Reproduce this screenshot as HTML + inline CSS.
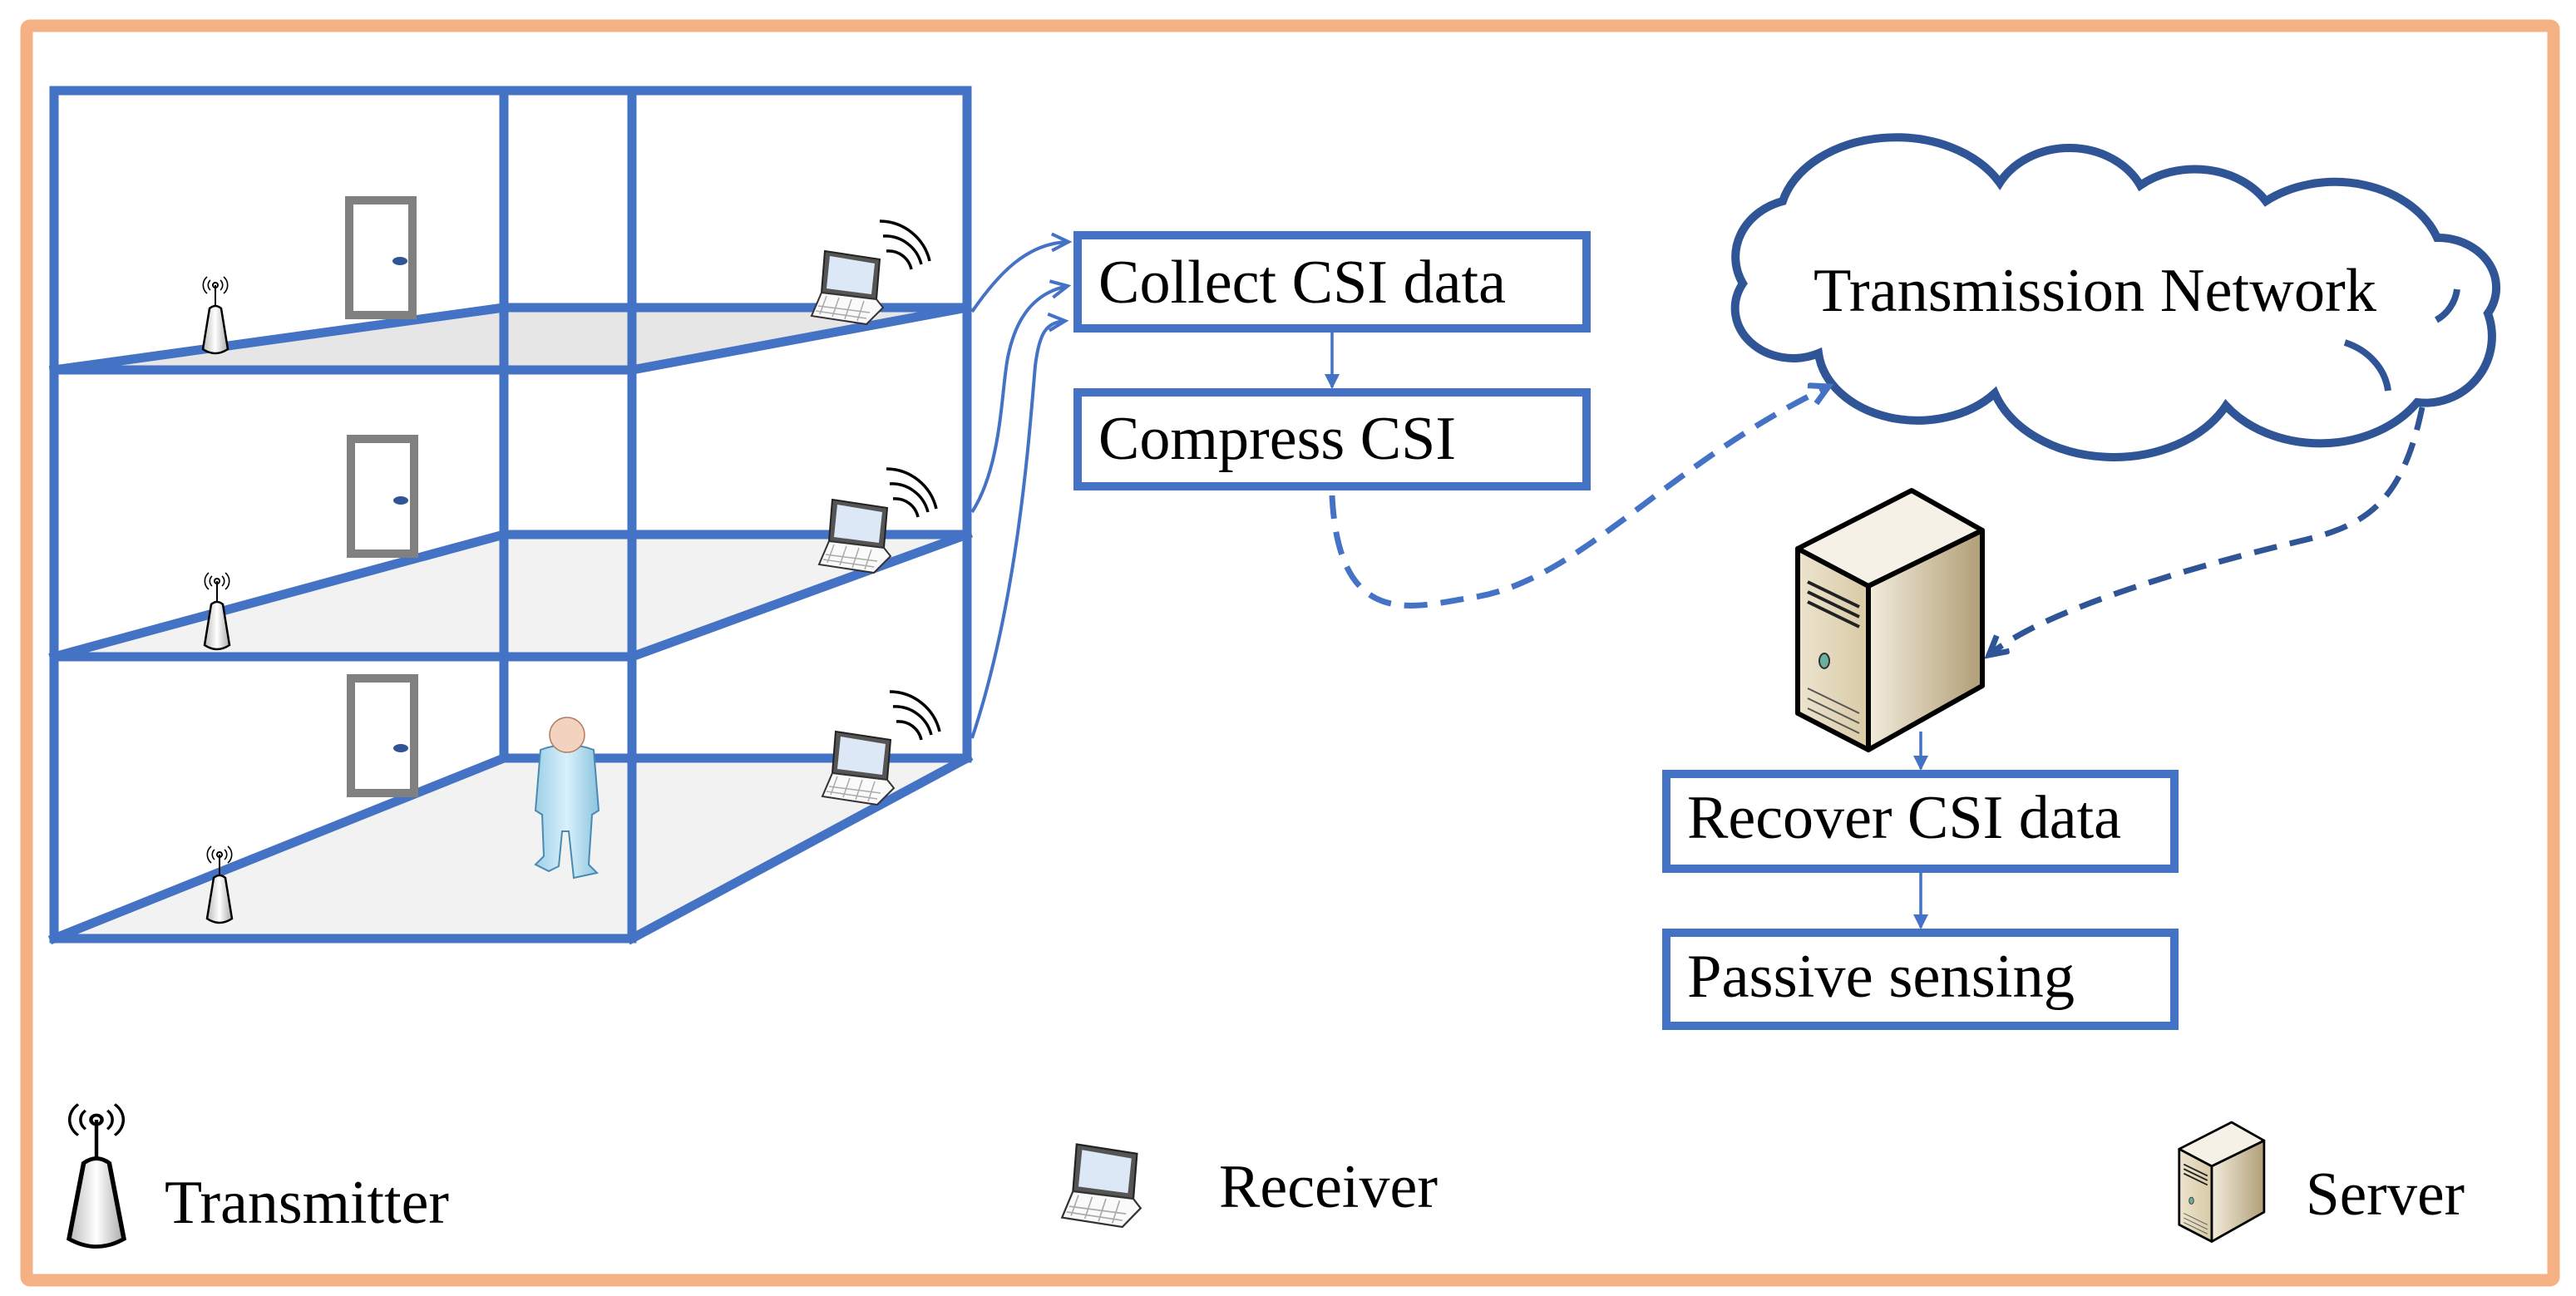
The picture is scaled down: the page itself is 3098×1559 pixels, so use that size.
<!DOCTYPE html>
<html><head><meta charset="utf-8"><style>html,body{margin:0;padding:0;background:#fff}svg{display:block}</style></head>
<body>
<svg width="3098" height="1559" viewBox="0 0 3098 1559" xmlns="http://www.w3.org/2000/svg">
<defs>
<marker id="av" markerUnits="userSpaceOnUse" markerWidth="30" markerHeight="30" refX="22" refY="12" orient="auto">
<path d="M2,2 L22,12 L2,22" fill="none" stroke="#4472C4" stroke-width="4"/></marker>
<marker id="ad" markerUnits="userSpaceOnUse" markerWidth="34" markerHeight="34" refX="24" refY="14" orient="auto">
<path d="M2,2 L24,14 L2,26" fill="none" stroke="#4472C4" stroke-width="7"/></marker>
<marker id="ad2" markerUnits="userSpaceOnUse" markerWidth="34" markerHeight="34" refX="24" refY="14" orient="auto">
<path d="M2,2 L24,14 L2,26" fill="none" stroke="#2F5597" stroke-width="7"/></marker>
<marker id="as" markerUnits="userSpaceOnUse" markerWidth="24" markerHeight="24" refX="16" refY="9" orient="auto">
<path d="M0,0 L18,9 L0,18 Z" fill="#4472C4"/></marker>
<linearGradient id="txg" x1="0" x2="1"><stop offset="0" stop-color="#bbb"/><stop offset="0.5" stop-color="#fff"/><stop offset="1" stop-color="#aaa"/></linearGradient>
<linearGradient id="sv1" x1="0" x2="1"><stop offset="0" stop-color="#ede4cf"/><stop offset="1" stop-color="#d8caa6"/></linearGradient>
<linearGradient id="sv2" x1="0" x2="1"><stop offset="0" stop-color="#f3ecdc"/><stop offset="1" stop-color="#b09e76"/></linearGradient>
<linearGradient id="pg" x1="0" x2="1"><stop offset="0" stop-color="#9fd0e8"/><stop offset="0.5" stop-color="#d8f0fa"/><stop offset="1" stop-color="#8cc4e0"/></linearGradient>
<g id="tx">
<path d="M-6,8 A8,8 0 0 0 -6,20 M6,8 A8,8 0 0 1 6,20 M-10,4 A13,13 0 0 0 -10,24 M10,4 A13,13 0 0 1 10,24" fill="none" stroke="#000" stroke-width="1.6"/>
<circle cx="0" cy="14" r="3" fill="none" stroke="#000" stroke-width="2"/>
<line x1="0" y1="14" x2="0" y2="44" stroke="#000" stroke-width="2"/>
<path d="M-7,42 Q0,36 7,42 L15,91 Q0,101 -15,91 Z" fill="url(#txg)" stroke="#000" stroke-width="2.5"/>
</g>
<g id="lap">
<path d="M18,4 L84,14 L80,62 L14,54 Z" fill="#555" stroke="#222" stroke-width="2"/>
<path d="M24,10 L78,19 L74,56 L20,49 Z" fill="#dce8f6"/>
<path d="M14,54 L80,62 L88,72 L68,92 L2,82 Z" fill="#fafafa" stroke="#333" stroke-width="2"/>
<path d="M10,70 L72,78 M7,76 L68,85 M20,58 L12,80 M35,60 L27,83 M50,62 L42,86 M65,64 L57,88" stroke="#aaa" stroke-width="1.5"/>
</g>
<g id="wav"><path d="M10,40 A28,28 0 0 1 40,62 M6,22 A45,45 0 0 1 52,56 M2,4 A62,62 0 0 1 62,52" fill="none" stroke="#000" stroke-width="3.5"/></g>
<g id="srv">
<path d="M6,70 L143,0 L228,48 L91,115 Z" fill="#f6f1e6" stroke="#000" stroke-width="6" stroke-linejoin="round"/>
<path d="M91,115 L228,48 L228,235 L91,312 Z" fill="url(#sv2)" stroke="#000" stroke-width="6" stroke-linejoin="round"/>
<path d="M6,70 L91,115 L91,312 L6,268 Z" fill="url(#sv1)" stroke="#000" stroke-width="6" stroke-linejoin="round"/>
<path d="M18,110 L80,140 M18,122 L80,152 M18,134 L80,164" stroke="#222" stroke-width="4"/>
<ellipse cx="38" cy="205" rx="6" ry="9" fill="#6ab0a0" stroke="#333" stroke-width="2"/>
<path d="M18,238 L80,268 M18,250 L80,280 M18,262 L80,292" stroke="#555" stroke-width="2"/>
</g>
</defs>

<rect x="32" y="31" width="3039" height="1509" fill="#fff" stroke="#F4B183" stroke-width="15" rx="4"/>

<polygon points="65,445 606,370 1163,370 760,445" fill="#E6E6E6"/>
<polygon points="65,790 606,643 1163,643 760,790" fill="#F2F2F2"/>
<polygon points="65,1129 606,912 1163,912 760,1129" fill="#F2F2F2"/>

<g stroke="#4472C4" stroke-width="11" fill="none" stroke-linecap="square">
<line x1="65" y1="109" x2="1163" y2="109"/>
<line x1="65" y1="109" x2="65" y2="1129"/>
<line x1="606" y1="109" x2="606" y2="912"/>
<line x1="760" y1="109" x2="760" y2="1129"/>
<line x1="1163" y1="109" x2="1163" y2="912"/>
<line x1="65" y1="445" x2="760" y2="445"/>
<line x1="606" y1="370" x2="1163" y2="370"/>
<line x1="65" y1="445" x2="606" y2="370"/>
<line x1="760" y1="445" x2="1163" y2="370"/>
<line x1="65" y1="790" x2="760" y2="790"/>
<line x1="606" y1="643" x2="1163" y2="643"/>
<line x1="65" y1="790" x2="606" y2="643"/>
<line x1="760" y1="790" x2="1163" y2="643"/>
<line x1="65" y1="1129" x2="760" y2="1129"/>
<line x1="606" y1="912" x2="1163" y2="912"/>
<line x1="65" y1="1129" x2="606" y2="912"/>
<line x1="760" y1="1129" x2="1163" y2="912"/>
</g>

<g fill="none" stroke="#808080" stroke-width="10">
<rect x="420" y="241" width="76" height="138"/>
<rect x="422" y="528" width="76" height="138"/>
<rect x="422" y="816" width="76" height="138"/>
</g>
<g fill="#2F5597"><ellipse cx="481" cy="314" rx="9" ry="5"/><ellipse cx="482" cy="602" rx="9" ry="5"/><ellipse cx="482" cy="900" rx="9" ry="5"/></g>

<use href="#tx" transform="translate(259,329)"/>
<use href="#tx" transform="translate(261,685)"/>
<use href="#tx" transform="translate(264,1014)"/>

<use href="#lap" transform="translate(974,298)"/>
<use href="#wav" transform="translate(1056,262)"/>
<use href="#lap" transform="translate(983,597)"/>
<use href="#wav" transform="translate(1064,560)"/>
<use href="#lap" transform="translate(987,876)"/>
<use href="#wav" transform="translate(1068,828)"/>

<g>
<path d="M650,902 Q682,890 714,902 L720,975 L712,980 L708,1040 L718,1050 L690,1056 L684,1000 L676,1000 L672,1042 L660,1048 L644,1040 L654,1030 L652,980 L644,975 Z" fill="url(#pg)" stroke="#4a8ab0" stroke-width="2"/>
<circle cx="682" cy="884" r="21" fill="#f4d2c0" stroke="#b07a60" stroke-width="1.5"/>
</g>

<g fill="none" stroke="#4472C4" stroke-width="4">
<path d="M1169,375 C1200,330 1235,292 1285,291" marker-end="url(#av)"/>
<path d="M1169,616 C1205,560 1204,470 1212,430 C1222,380 1245,352 1284,344" marker-end="url(#av)"/>
<path d="M1169,888 C1225,720 1238,520 1245,440 C1250,400 1258,388 1281,386" marker-end="url(#av)"/>
</g>

<g fill="#fff" stroke="#4472C4" stroke-width="10">
<rect x="1296" y="283" width="612" height="112"/>
<rect x="1296" y="472" width="612" height="113"/>
<rect x="2004" y="931" width="611" height="114"/>
<rect x="2004" y="1122" width="611" height="112"/>
</g>
<g stroke="#4472C4" stroke-width="3.5">
<line x1="1602" y1="399" x2="1602" y2="466" marker-end="url(#as)"/>
<line x1="2310" y1="880" x2="2310" y2="925" marker-end="url(#as)"/>
<line x1="2310" y1="1050" x2="2310" y2="1116" marker-end="url(#as)"/>
</g>

<path d="M2144,242 A140,100 0 0 1 2405,220 A95,80 0 0 1 2574,223 A100,80 0 0 1 2725,242 A130,100 0 0 1 2931,286 A70,60 0 0 1 2992,377 A80,80 0 0 1 2907,484 A140,110 0 0 1 2677,488 A150,110 0 0 1 2399,473 A120,90 0 0 1 2187,425 A70,60 0 0 1 2096,341 A80,70 0 0 1 2144,242 Z" fill="#fff" stroke="#2F5597" stroke-width="10"/>
<g fill="none" stroke="#2F5597" stroke-width="8">
<path d="M2930,385 A50,50 0 0 0 2955,348"/>
<path d="M2820,412 A80,70 0 0 1 2872,470"/>
</g>

<g font-family="'Liberation Serif', serif" font-size="74" fill="#000">
<text x="1321" y="364" textLength="490" lengthAdjust="spacingAndGlyphs">Collect CSI data</text>
<text x="1321" y="552" textLength="430" lengthAdjust="spacingAndGlyphs">Compress CSI</text>
<text x="2029" y="1008" textLength="522" lengthAdjust="spacingAndGlyphs">Recover CSI data</text>
<text x="2029" y="1199" textLength="466" lengthAdjust="spacingAndGlyphs">Passive sensing</text>
<text x="2181" y="374" textLength="677" lengthAdjust="spacingAndGlyphs">Transmission Network</text>
<text x="198" y="1471" textLength="342" lengthAdjust="spacingAndGlyphs">Transmitter</text>
<text x="1466" y="1452" textLength="263" lengthAdjust="spacingAndGlyphs">Receiver</text>
<text x="2773" y="1461" textLength="191" lengthAdjust="spacingAndGlyphs">Server</text>
</g>

<path d="M1602,596 C1610,760 1700,730 1769,719 C1900,700 2000,560 2199,465" fill="none" stroke="#4472C4" stroke-width="7" stroke-dasharray="28,16" marker-end="url(#ad)"/>
<path d="M2913,490 C2890,600 2850,630 2774,649 C2600,690 2450,740 2392,788" fill="none" stroke="#2F5597" stroke-width="7" stroke-dasharray="28,16" marker-end="url(#ad2)"/>

<use href="#srv" transform="translate(2156,590)"/>

<use href="#tx" transform="translate(116,1321) scale(2.2,1.86)"/>
<use href="#lap" transform="translate(1275,1372) scale(1.1,1.13)"/>
<use href="#srv" transform="translate(2618,1350) scale(0.46,0.46)"/>
</svg>
</body></html>
